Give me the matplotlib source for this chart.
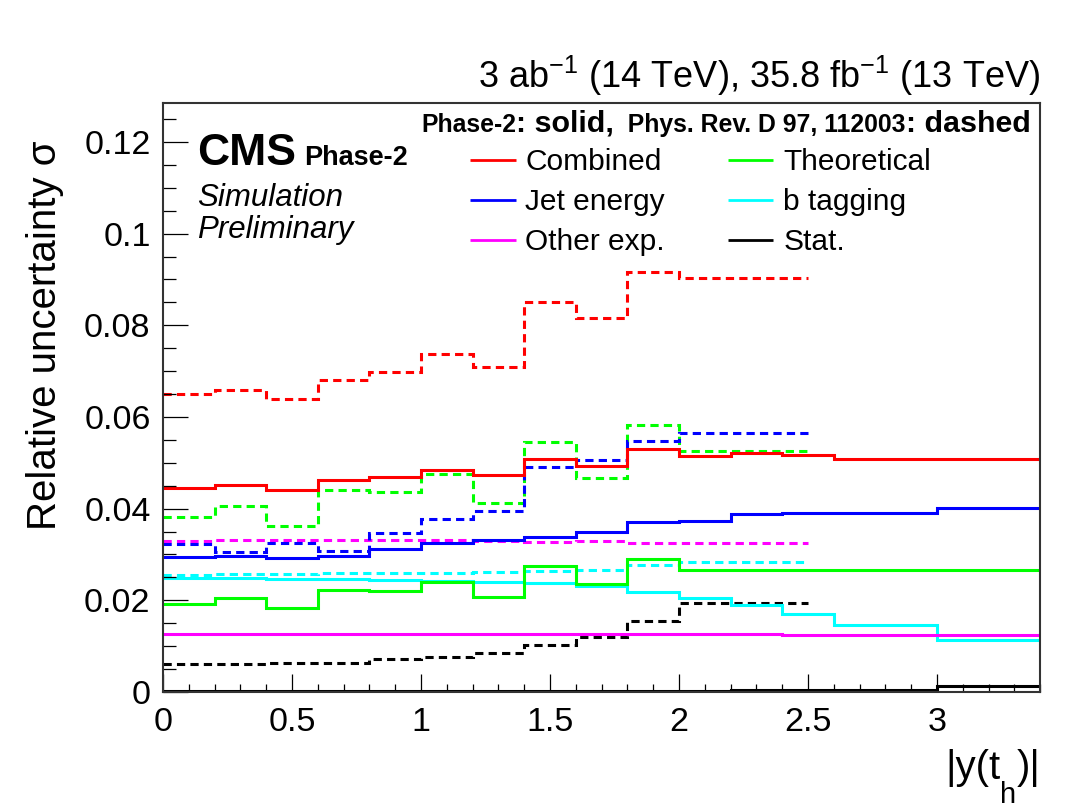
import numpy as np
import matplotlib
matplotlib.use("Agg")
import matplotlib.pyplot as plt
from matplotlib.ticker import MultipleLocator

plt.rcParams['font.family'] = ['Liberation Sans', 'DejaVu Sans']
plt.rcParams['mathtext.fontset'] = 'custom'
plt.rcParams['mathtext.rm'] = 'Liberation Sans'
plt.rcParams['mathtext.it'] = 'Liberation Sans:italic'
plt.rcParams['mathtext.bf'] = 'Liberation Sans:bold'

# ---- data ----
edges_phase2 = [0.0, 0.2, 0.4, 0.6, 0.8, 1.0, 1.2, 1.4, 1.6, 1.8, 2.0, 2.2, 2.4, 2.6, 3.0, 3.4]
edges_2016 = [0.0, 0.2, 0.4, 0.6, 0.8, 1.0, 1.2, 1.4, 1.6, 1.8, 2.0, 2.5]

combined_p2 = [0.0445, 0.0452, 0.0441, 0.0462, 0.0468, 0.0484, 0.0474, 0.0509, 0.0492, 0.0531,
               0.0515, 0.0522, 0.0516, 0.0508, 0.0509]
combined_old = [0.0650, 0.0658, 0.0640, 0.0681, 0.0699, 0.0738, 0.0710, 0.0850, 0.0815, 0.0916, 0.0903]

jet_p2 = [0.0295, 0.0297, 0.0293, 0.0297, 0.0311, 0.0324, 0.0331, 0.0338, 0.0348, 0.0370,
          0.0373, 0.0389, 0.0391, 0.0391, 0.0402]
jet_old = [0.0322, 0.0305, 0.0324, 0.0307, 0.0346, 0.0378, 0.0395, 0.0490, 0.0507, 0.0548, 0.0565]

theory_p2 = [0.0191, 0.0204, 0.0183, 0.0222, 0.0220, 0.0239, 0.0207, 0.0274, 0.0235, 0.0291,
             0.0266, 0.0266, 0.0266, 0.0266, 0.0266]
theory_old = [0.0381, 0.0406, 0.0362, 0.0440, 0.0436, 0.0476, 0.0412, 0.0546, 0.0467, 0.0582, 0.0526]

btag_p2 = [0.0249, 0.0248, 0.0247, 0.0246, 0.0245, 0.0243, 0.0241, 0.0237, 0.0232, 0.0218,
           0.0205, 0.0189, 0.0171, 0.0147, 0.0114]
btag_old = [0.0256, 0.0257, 0.0258, 0.0259, 0.0260, 0.0260, 0.0261, 0.0264, 0.0267, 0.0276, 0.0284]

other_p2 = [0.0127, 0.0127, 0.0127, 0.0127, 0.0127, 0.0127, 0.0127, 0.0126, 0.0126, 0.0126,
            0.0126, 0.0126, 0.0125, 0.0125, 0.0125]
other_old = [0.0330, 0.0331, 0.0331, 0.0332, 0.0332, 0.0331, 0.0330, 0.0328, 0.0329, 0.0326, 0.0326]

stat_p2 = [0.0002, 0.0002, 0.0002, 0.0002, 0.0002, 0.0002, 0.0002, 0.0002, 0.0003, 0.0003,
           0.0003, 0.0004, 0.0004, 0.0005, 0.0013]
stat_old = [0.0060, 0.0062, 0.0064, 0.0064, 0.0071, 0.0077, 0.0086, 0.0102, 0.0119, 0.0155, 0.0195]

labels = ["Combined", "Jet energy", "Other exp.", "Theoretical", "b tagging", "Stat."]
colors = ["#ff0000", "#0000ff", "#ff00ff", "#00ff00", "#00ffff", "#000000"]

series_p2 = [combined_p2, jet_p2, other_p2, theory_p2, btag_p2, stat_p2]
series_old = [combined_old, jet_old, other_old, theory_old, btag_old, stat_old]

# ---- figure ----
fig = plt.figure(figsize=(10.67, 8.10), dpi=100)
ax = fig.add_axes([0.1528, 0.1457, 0.822, 0.7271])

lw = 2.2
dash = (0, (2.7, 1.7))
draw_order = [5, 4, 3, 2, 1, 0]
for i in draw_order:
    ax.stairs(series_old[i], edges_2016, baseline=None, color=colors[i], lw=lw, linestyle=dash)
for i in draw_order:
    ax.stairs(series_p2[i], edges_phase2, baseline=None, color=colors[i], lw=lw)

ax.set_xlim(0, 3.4)
ax.set_ylim(0, 0.1285)

ax.xaxis.set_major_locator(MultipleLocator(0.5))
ax.xaxis.set_minor_locator(MultipleLocator(0.1))
ax.yaxis.set_major_locator(MultipleLocator(0.02))
ax.yaxis.set_minor_locator(MultipleLocator(0.005))
ax.xaxis.set_major_formatter(matplotlib.ticker.FuncFormatter(lambda v, p: ("%g" % v)))
ax.yaxis.set_major_formatter(matplotlib.ticker.FuncFormatter(lambda v, p: ("%g" % round(v, 4))))

ax.tick_params(axis='both', which='both', direction='in', top=False, right=False, width=0.9, color='black')
ax.tick_params(axis='y', which='major', length=18, pad=9, labelsize=24.5)
ax.tick_params(axis='y', which='minor', length=9)
ax.tick_params(axis='x', which='major', length=12.7, pad=11, labelsize=24.5)
ax.tick_params(axis='x', which='minor', length=5.5)
for s in ax.spines.values():
    s.set_linewidth(1.5)
    s.set_color('#333333')

fig.canvas.draw()
renderer = fig.canvas.get_renderer()
axw = ax.get_window_extent(renderer=renderer).width

# axis titles
ax.text(-0.135, 0.936, "Relative uncertainty \u03c3", transform=ax.transAxes, rotation=90,
        ha='center', va='top', fontsize=29)

# x title drawn in pieces to mimic the low subscript
xt_parts = [("|y(t", 29, 0.0), ("h", 21, -0.040), (")|", 29, 0.0)]
widths = []
tmp = []
for txt, fs, dy in xt_parts:
    t = ax.text(0, 0, txt, transform=ax.transAxes, fontsize=fs)
    widths.append(t.get_window_extent(renderer=renderer).width / axw)
    tmp.append(t)
for t in tmp:
    t.remove()
xcur = 1.0 - sum(widths)
for (txt, fs, dy), w in zip(xt_parts, widths):
    ax.text(xcur, -0.148 + dy, txt, transform=ax.transAxes, ha='left', va='baseline', fontsize=fs)
    xcur += w

# luminosity
ax.text(1.0, 1.025, "3 ab$^{-1}$ (14 TeV), 35.8 fb$^{-1}$ (13 TeV)", transform=ax.transAxes,
        ha='right', va='baseline', fontsize=26)

# CMS label
ax.text(0.0388, 0.895, "CMS", transform=ax.transAxes, ha='left', va='baseline',
        fontsize=32, fontweight='bold')
ax.text(0.161, 0.895, "Phase-2", transform=ax.transAxes, ha='left', va='baseline',
        fontsize=19.5, fontweight='bold')
ax.text(0.0388, 0.825, "Simulation", transform=ax.transAxes, ha='left', va='baseline',
        fontsize=22.5, style='italic')
ax.text(0.0388, 0.771, "Preliminary", transform=ax.transAxes, ha='left', va='baseline',
        fontsize=22.5, style='italic')

# header line
parts = [("Phase-2", 17.8), (": solid,", 21.9), ("  Phys. Rev. D 97, 112003", 17.8), (": dashed", 21.9)]
x = 0.2945
yhead = 0.9514
for txt, fs in parts:
    t = ax.text(x, yhead, txt, transform=ax.transAxes, ha='left', va='baseline',
                fontsize=fs, fontweight='bold')
    bb = t.get_window_extent(renderer=renderer)
    x += bb.width / axw

# legend
col_x = [0.350, 0.644]
row_y = [0.887, 0.819, 0.751]
for k, (lab, col) in enumerate(zip(labels, colors)):
    c = k // 3
    r = k % 3
    x0 = col_x[c]
    y0 = row_y[r]
    ax.plot([x0, x0 + 0.052], [y0 + 0.017, y0 + 0.017], transform=ax.transAxes, color=col, lw=2.0,
            clip_on=False, solid_capstyle='butt')
    ax.text(x0 + 0.063, y0, lab, transform=ax.transAxes, ha='left', va='baseline', fontsize=21.5)

fig.savefig("out.png", dpi=100)
